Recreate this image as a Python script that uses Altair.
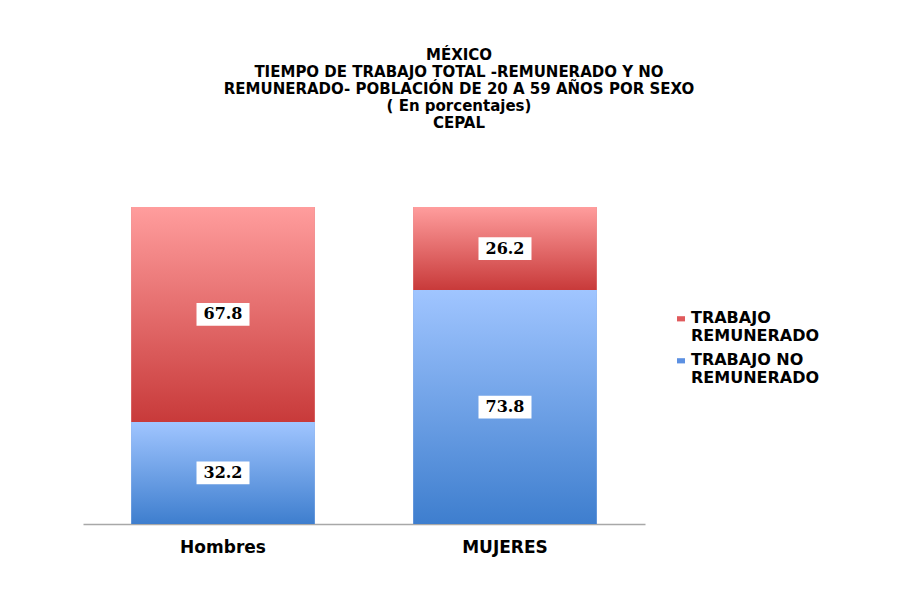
import altair as alt
import pandas as pd

sexo = ["Hombres", "MUJERES"]
series = ["TRABAJO REMUNERADO", "TRABAJO NO REMUNERADO"]
remunerado = [67.8, 26.2]
no_remunerado = [32.2, 73.8]
titulo = [
    "MÉXICO",
    "TIEMPO DE TRABAJO TOTAL -REMUNERADO Y NO",
    "REMUNERADO- POBLACIÓN DE 20 A 59 AÑOS POR SEXO",
    "( En porcentajes)",
    "CEPAL",
]

rows = []
for s, r, n in zip(sexo, remunerado, no_remunerado):
    rows.append({"sexo": s, "serie": series[1], "valor": n, "y0": 0.0, "y1": n})
    rows.append({"sexo": s, "serie": series[0], "valor": r, "y0": n, "y1": n + r})
df = pd.DataFrame(rows)
df["mid"] = (df["y0"] + df["y1"]) / 2
df["etiqueta"] = df["valor"].map(lambda v: f"{v:.1f}")

red_grad = alt.LinearGradient(
    gradient="linear", x1=0, x2=0, y1=0, y2=1,
    stops=[alt.GradientStop(color="#FF9D9D", offset=0),
           alt.GradientStop(color="#C83A3A", offset=1)],
)
blue_grad = alt.LinearGradient(
    gradient="linear", x1=0, x2=0, y1=0, y2=1,
    stops=[alt.GradientStop(color="#A0C5FF", offset=0),
           alt.GradientStop(color="#3E7ECE", offset=1)],
)

x_enc = alt.X(
    "sexo:N", sort=sexo,
    scale=alt.Scale(paddingInner=0.35, paddingOuter=0.1715),
    axis=alt.Axis(title=None, labelAngle=0, ticks=False, domainColor="#A8A8A8",
                  domainWidth=1.5,
                  labelFont="DejaVu Sans", labelFontWeight="bold", labelFontSize=17,
                  labelColor="#000000", labelPadding=15),
)
y_enc = alt.Y("y0:Q", scale=alt.Scale(domain=[0, 100]), axis=None)

base = alt.Chart(df)

legend_bars = base.mark_bar().encode(
    x=x_enc, y=y_enc, y2="y1:Q",
    color=alt.Color(
        "serie:N",
        scale=alt.Scale(domain=series, range=["#E05A5C", "#5C90E2"]),
        legend=alt.Legend(
            title=None, orient="none", legendX=590, legendY=95,
            symbolType="M-1,1.55H1V2.85H-1Z", symbolSize=64, symbolStrokeWidth=0,
            labelFont="DejaVu Sans", labelFontWeight="bold", labelFontSize=16,
            labelColor="#000000", labelLimit=300,
            labelBaseline="top", labelOffset=2, rowPadding=0,
            labelExpr="datum.label == 'TRABAJO REMUNERADO' ? ['TRABAJO', 'REMUNERADO'] : ['TRABAJO NO', 'REMUNERADO']",
        ),
    ),
)

blue_bars = base.transform_filter(alt.datum.serie == series[1]).mark_bar(
    color=blue_grad).encode(x=x_enc, y=y_enc, y2="y1:Q")
red_bars = base.transform_filter(alt.datum.serie == series[0]).mark_bar(
    color=red_grad).encode(x=x_enc, y=y_enc, y2="y1:Q")

boxes = base.mark_point(
    shape="M-1,-0.43H1V0.43H-1Z", filled=True, fill="white", opacity=1,
    size=2809, strokeWidth=0,
).encode(x=x_enc, y=alt.Y("mid:Q", scale=alt.Scale(domain=[0, 100]), axis=None))

labels = base.mark_text(
    font="DejaVu Serif", fontWeight="bold", fontSize=16, color="#000000",
).encode(x=x_enc, y=alt.Y("mid:Q", scale=alt.Scale(domain=[0, 100]), axis=None),
         text="etiqueta:N")

chart = alt.layer(legend_bars, blue_bars, red_bars, boxes, labels).properties(
    width=562, height=317,
    title=alt.TitleParams(
        text=titulo, anchor="middle", frame="group", dx=95, offset=76,
        font="DejaVu Sans", fontWeight="bold", fontSize=15, lineHeight=17,
        color="#000000",
    ),
    autosize=alt.AutoSizeParams(type="none"),
    padding={"left": 75, "top": 199, "right": 245, "bottom": 68},
).configure_view(stroke=None)

chart.save("out.html", embed_options={"renderer": "svg", "actions": False})
